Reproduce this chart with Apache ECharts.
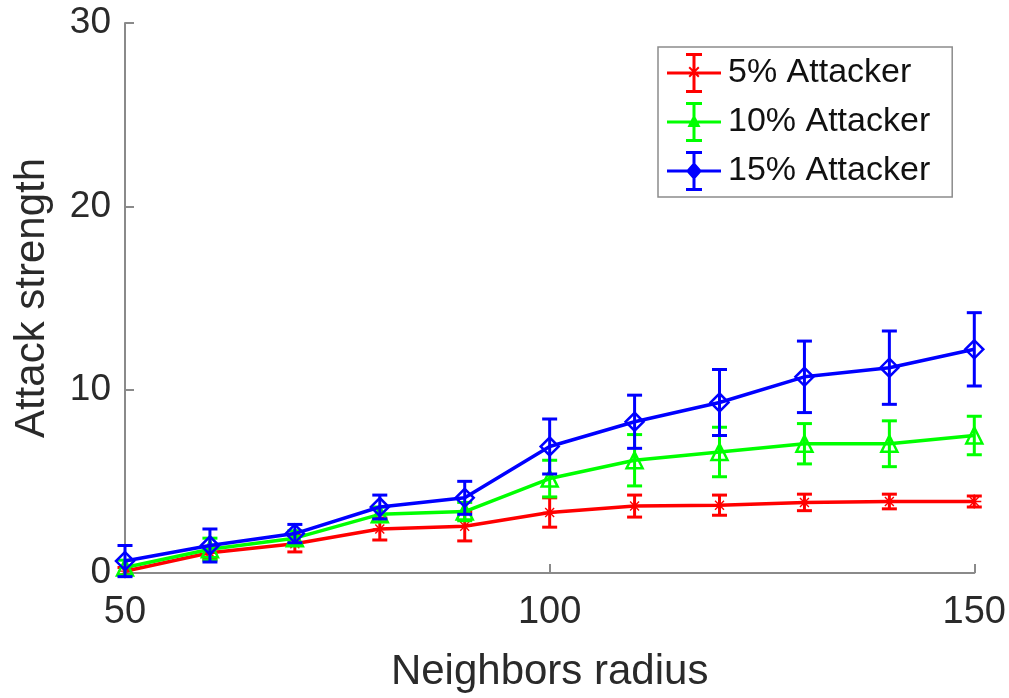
<!DOCTYPE html>
<html>
<head>
<meta charset="utf-8">
<script src="https://cdn.jsdelivr.net/npm/echarts@6/dist/echarts.min.js"></script>
<style>
  html, body { margin: 0; padding: 0; background: #fff; }
  #chart { width: 1009px; height: 698px; }
</style>
</head>
<body>
<div id="chart"></div>
<script>
// Neighbor radius values on the x axis
const radius = [50, 60, 70, 80, 90, 100, 110, 120, 130, 140, 150];

// Mean attack strength and error (half-length of bar) per attacker share
const attack5 = [0.1, 1.1, 1.6, 2.4, 2.55, 3.3, 3.65, 3.7, 3.85, 3.9, 3.9];
const attack5Err = [0.2, 0.35, 0.45, 0.6, 0.8, 0.8, 0.6, 0.55, 0.45, 0.4, 0.3];
const attack10 = [0.3, 1.3, 1.9, 3.2, 3.35, 5.15, 6.15, 6.6, 7.05, 7.05, 7.5];
const attack10Err = [0.4, 0.6, 0.4, 0.4, 0.5, 1.0, 1.4, 1.35, 1.1, 1.25, 1.05];
const attack15 = [0.65, 1.5, 2.15, 3.6, 4.1, 6.9, 8.25, 9.3, 10.7, 11.2, 12.2];
const attack15Err = [0.85, 0.9, 0.5, 0.65, 0.9, 1.5, 1.45, 1.8, 1.95, 2.0, 2.0];

const seriesNames = ['5% Attacker', '10% Attacker', '15% Attacker'];
const colors = ['#ff0000', '#00ff00', '#0000ff'];
const yTicks = [0, 10, 20, 30];
const xTicks = [50, 100, 150];

const FONT = "'Liberation Sans', Arial, sans-serif";

// MATLAB-style '*' marker
const starPath = 'path://M9 0h2v20h-2z M0 9h20v2h-20z M2.9 4.3L4.3 2.9L17.1 15.7L15.7 17.1z M15.7 2.9L17.1 4.3L4.3 17.1L2.9 15.7z';

// Legend glyphs: line + error bar + marker
const legendBase = 'M0 18.5h54v3H0z M25.5 2h3v36h-3z M19 0h16v3H19z M19 37h16v3H19z';
const legendIcons = [
  'path://' + legendBase + ' M26 13h2v14h-2z M20 19h14v2H20z M21.5 14.9L22.9 13.5L32.5 23.1L31.1 24.5z M31.1 13.5L32.5 14.9L22.9 24.5L21.5 23.1z',
  'path://' + legendBase + ' M27 12L33.5 25H20.5z',
  'path://' + legendBase + ' M27 11L35 20L27 29L19 20z'
];

function pairs(xs, ys) { return xs.map((x, i) => [x, ys[i]]); }
function triples(xs, ys, es) { return xs.map((x, i) => [x, ys[i], es[i]]); }

function errorBar(color) {
  return function (params, api) {
    const x = api.value(0), y = api.value(1), e = api.value(2);
    const top = api.coord([x, y + e]);
    const bot = api.coord([x, y - e]);
    const half = 7.5;
    const st = { stroke: color, lineWidth: 3, fill: null };
    return {
      type: 'group',
      children: [
        { type: 'line', shape: { x1: top[0], y1: top[1], x2: bot[0], y2: bot[1] }, style: st },
        { type: 'line', shape: { x1: top[0] - half, y1: top[1], x2: top[0] + half, y2: top[1] }, style: st },
        { type: 'line', shape: { x1: bot[0] - half, y1: bot[1], x2: bot[0] + half, y2: bot[1] }, style: st }
      ]
    };
  };
}

const means = [attack5, attack10, attack15];
const errs = [attack5Err, attack10Err, attack15Err];
const markers = [
  { symbol: starPath, size: 14, hollow: false },
  { symbol: 'triangle', size: 16, hollow: true },
  { symbol: 'diamond', size: 18, hollow: true }
];

const series = [];
for (let k = 0; k < 3; k++) {
  series.push({
    name: seriesNames[k],
    type: 'line',
    data: pairs(radius, means[k]),
    symbol: markers[k].symbol,
    symbolSize: markers[k].size,
    showAllSymbol: true,
    lineStyle: { color: colors[k], width: 3.5 },
    itemStyle: markers[k].hollow
      ? { color: 'rgba(255,255,255,0)', borderColor: colors[k], borderWidth: 2.5 }
      : { color: colors[k], borderWidth: 0 },
    z: 2 + k * 2,
    animation: false
  });
  series.push({
    name: seriesNames[k] + ' error',
    type: 'custom',
    data: triples(radius, means[k], errs[k]),
    encode: { x: 0, y: 1 },
    renderItem: errorBar(colors[k]),
    z: 3 + k * 2,
    animation: false,
    silent: true
  });
}

const chart = echarts.init(document.getElementById('chart'), null, { renderer: 'canvas' });
chart.setOption({
  backgroundColor: '#fff',
  animation: false,
  textStyle: { fontFamily: FONT },
  grid: { left: 125, right: 34, top: 23, bottom: 123, containLabel: false },
  legend: {
    orient: 'vertical',
    left: 658,
    top: 47,
    padding: [6, 22, 6, 9],
    itemWidth: 54,
    itemHeight: 40,
    itemGap: 9,
    borderColor: '#8c8c8c',
    borderWidth: 1.5,
    backgroundColor: '#fff',
    textStyle: { fontSize: 34, color: '#111', fontFamily: FONT, padding: [0, 0, 0, 2] },
    data: seriesNames.map((n, k) => ({
      name: n,
      icon: legendIcons[k],
      itemStyle: { color: colors[k], borderWidth: 0 }
    }))
  },
  xAxis: {
    type: 'value',
    min: xTicks[0],
    max: xTicks[xTicks.length - 1],
    interval: 50,
    name: 'Neighbors radius',
    nameLocation: 'middle',
    nameGap: 78,
    nameTextStyle: { fontSize: 42, color: '#2a2a2a', fontFamily: FONT },
    axisLine: { show: true, lineStyle: { color: '#8a8a8a', width: 2 } },
    axisTick: { show: true, inside: true, length: 9, lineStyle: { color: '#8a8a8a', width: 2 } },
    axisLabel: { fontSize: 38, color: '#2a2a2a', margin: 21, fontFamily: FONT },
    splitLine: { show: false }
  },
  yAxis: {
    type: 'value',
    min: yTicks[0],
    max: yTicks[yTicks.length - 1],
    interval: 10,
    name: 'Attack strength',
    nameLocation: 'middle',
    nameGap: 72,
    nameRotate: 90,
    nameTextStyle: { fontSize: 42, color: '#2a2a2a', fontFamily: FONT },
    axisLine: { show: true, lineStyle: { color: '#8a8a8a', width: 2 } },
    axisTick: { show: true, inside: true, length: 9, lineStyle: { color: '#8a8a8a', width: 2 } },
    axisLabel: { fontSize: 37, color: '#2a2a2a', margin: 14, fontFamily: FONT },
    splitLine: { show: false }
  },
  series: series
});
</script>
</body>
</html>
